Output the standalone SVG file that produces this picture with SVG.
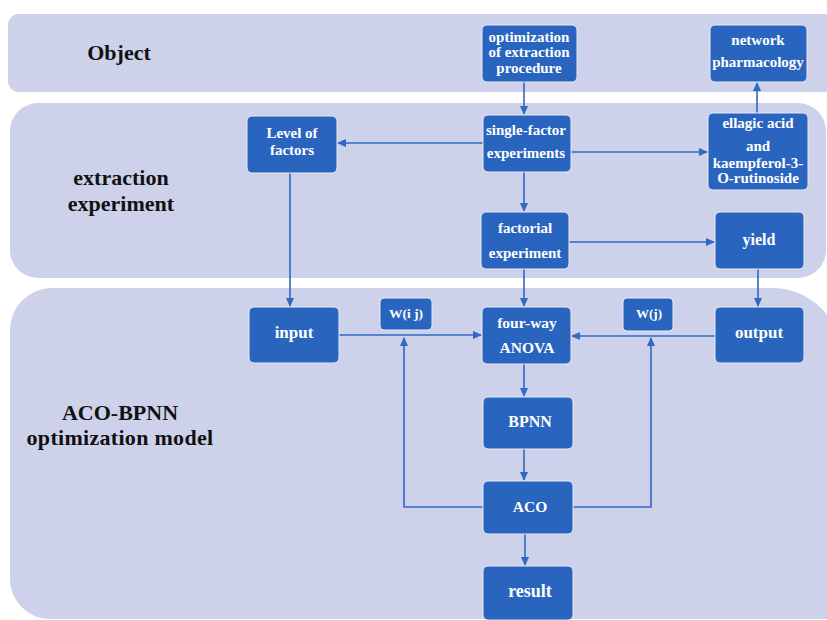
<svg xmlns="http://www.w3.org/2000/svg" width="827" height="620" viewBox="0 0 827 620">
<defs>
<style>
.band{fill:#CDD1E9;}
.node rect{fill:#2965BF;stroke:#E6EAF6;stroke-width:1;}
.node text{fill:#FFFFFF;font-family:"Liberation Serif","Times New Roman",serif;font-weight:bold;font-size:15px;text-anchor:middle;}
.node text.big{font-size:17px;}
.node text.w{font-size:13.5px;}
.lbl{fill:#111111;font-family:"Liberation Serif","Times New Roman",serif;font-weight:bold;font-size:22px;text-anchor:middle;}
.edge{fill:none;stroke:#3068C4;stroke-width:1.6;}
</style>
<marker id="ah" markerUnits="userSpaceOnUse" markerWidth="9" markerHeight="8" refX="8" refY="4" orient="auto">
<path d="M0,0 L9,4 L0,8 z" fill="#3068C4"/>
</marker>
</defs>
<rect width="827" height="620" fill="#FFFFFF"/>
<g id="bands">
<rect class="band" x="8" y="14" width="840" height="78" rx="11"/>
<rect class="band" x="10" y="103" width="816" height="175" rx="28"/>
<path class="band" d="M10,330 A42,42 0 0 1 52,288 H772 A70,70 0 0 1 842,358 V619 H50 A40,40 0 0 1 10,579 Z"/>
<text class="lbl" x="119" y="60">Object</text>
<text class="lbl" x="121" y="185">extraction</text>
<text class="lbl" x="121" y="211">experiment</text>
<text class="lbl" x="120" y="420">ACO-BPNN</text>
<text class="lbl" x="120" y="445" style="letter-spacing:0.3px">optimization model</text>
</g>
<g id="connectors">
<line class="edge" x1="524" y1="82" x2="524" y2="114" marker-end="url(#ah)"/>
<line class="edge" x1="757" y1="113" x2="757" y2="83" marker-end="url(#ah)"/>
<line class="edge" x1="483" y1="143" x2="338" y2="143" marker-end="url(#ah)"/>
<line class="edge" x1="571" y1="152" x2="707" y2="152" marker-end="url(#ah)"/>
<line class="edge" x1="524" y1="172" x2="524" y2="211" marker-end="url(#ah)"/>
<line class="edge" x1="569" y1="242" x2="714" y2="242" marker-end="url(#ah)"/>
<line class="edge" x1="290" y1="173" x2="290" y2="306" marker-end="url(#ah)"/>
<line class="edge" x1="524" y1="269" x2="524" y2="306" marker-end="url(#ah)"/>
<line class="edge" x1="758" y1="269" x2="758" y2="306" marker-end="url(#ah)"/>
<line class="edge" x1="339" y1="335" x2="481" y2="335" marker-end="url(#ah)"/>
<line class="edge" x1="715" y1="336" x2="572" y2="336" marker-end="url(#ah)"/>
<line class="edge" x1="524" y1="364" x2="524" y2="396" marker-end="url(#ah)"/>
<line class="edge" x1="524" y1="449" x2="524" y2="480" marker-end="url(#ah)"/>
<line class="edge" x1="525" y1="534" x2="525" y2="565" marker-end="url(#ah)"/>
<polyline class="edge" points="483,507 404,507 404,338" marker-end="url(#ah)"/>
<polyline class="edge" points="573,507 651,507 651,338" marker-end="url(#ah)"/>
</g>
<g id="n-optimization" class="node">
<rect x="482" y="25" width="95" height="57" rx="5"/>
<text x="529" y="42">optimization</text>
<text x="529" y="57">of extraction</text>
<text x="529" y="73">procedure</text>
</g>
<g id="n-network" class="node">
<rect x="710" y="25" width="97" height="57" rx="5"/>
<text x="758" y="45">network</text>
<text x="758" y="67">pharmacology</text>
</g>
<g id="n-level" class="node">
<rect x="247" y="116" width="90" height="57" rx="5"/>
<text x="292" y="138">Level of</text>
<text x="292" y="155">factors</text>
</g>
<g id="n-single" class="node">
<rect x="483" y="115" width="88" height="57" rx="5"/>
<text x="526" y="135">single-factor</text>
<text x="526" y="158">experiments</text>
</g>
<g id="n-ellagic" class="node">
<rect x="708" y="113" width="100" height="77" rx="5"/>
<text x="758" y="128">ellagic acid</text>
<text x="758" y="151">and</text>
<text x="758" y="168">kaempferol-3-</text>
<text x="758" y="183">O-rutinoside</text>
</g>
<g id="n-factorial" class="node">
<rect x="481" y="212" width="88" height="57" rx="5"/>
<text x="525" y="233">factorial</text>
<text x="525" y="258">experiment</text>
</g>
<g id="n-yield" class="node">
<rect x="715" y="212" width="89" height="57" rx="5"/>
<text class="big" x="759" y="245" style="font-size:16px">yield</text>
</g>
<g id="n-input" class="node">
<rect x="249" y="307" width="90" height="56" rx="5"/>
<text class="big" x="294" y="338">input</text>
</g>
<g id="n-wij" class="node">
<rect x="380" y="298" width="52" height="32" rx="4"/>
<text class="w" x="406" y="318">W(i j)</text>
</g>
<g id="n-anova" class="node">
<rect x="482" y="307" width="89" height="57" rx="5"/>
<text x="527" y="328" style="font-size:15.5px">four-way</text>
<text x="527" y="353" style="font-size:15.5px">ANOVA</text>
</g>
<g id="n-wj" class="node">
<rect x="623" y="298" width="50" height="33" rx="4"/>
<text class="w" x="649" y="318" style="font-size:13px">W(j)</text>
</g>
<g id="n-output" class="node">
<rect x="715" y="307" width="89" height="56" rx="5"/>
<text class="big" x="759" y="338">output</text>
</g>
<g id="n-bpnn" class="node">
<rect x="483" y="397" width="90" height="52" rx="5"/>
<text class="big" x="530" y="427" style="font-size:16px">BPNN</text>
</g>
<g id="n-aco" class="node">
<rect x="483" y="481" width="90" height="53" rx="5"/>
<text class="big" x="530" y="512" style="font-size:15.5px">ACO</text>
</g>
<g id="n-result" class="node">
<rect x="483" y="566" width="90" height="54" rx="5"/>
<text class="big" x="530" y="597" style="font-size:18px">result</text>
</g>
</svg>
